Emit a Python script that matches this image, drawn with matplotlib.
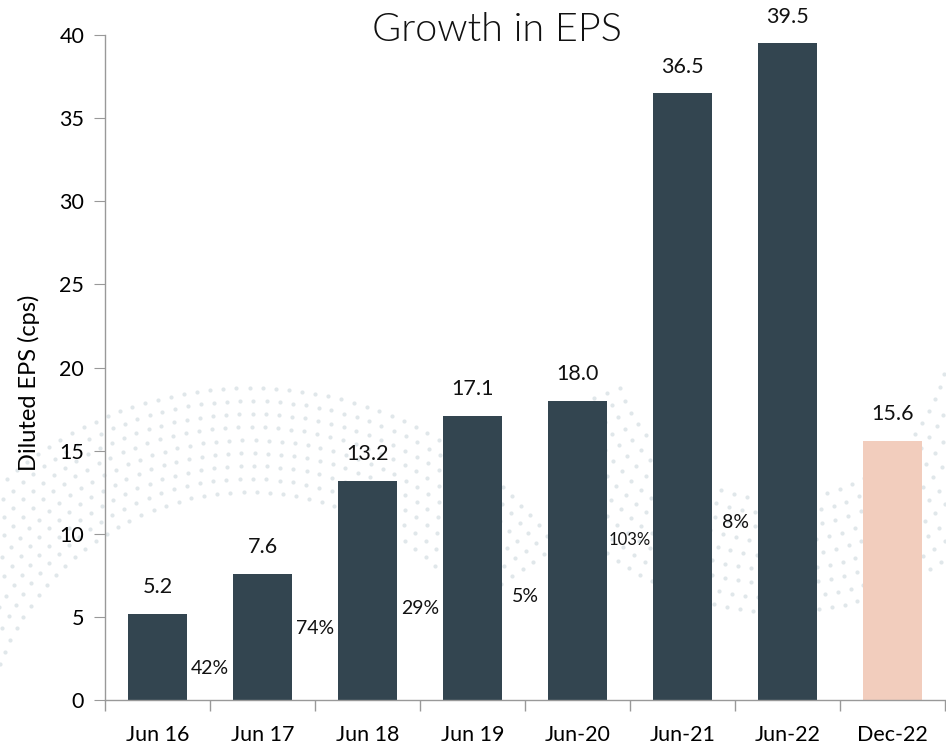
import matplotlib
matplotlib.use("Agg")
import matplotlib.pyplot as plt
import numpy as np

categories = ["Jun 16", "Jun 17", "Jun 18", "Jun 19", "Jun-20", "Jun-21", "Jun-22", "Dec-22"]
eps_values = [5.2, 7.6, 13.2, 17.1, 18.0, 36.5, 39.5, 15.6]
growth_labels = ["42%", "74%", "29%", "5%", "103%", "8%"]
growth_label_y = [1.9, 4.3, 5.5, 6.2, 9.6, 10.7]
bar_colors = ["#334550"] * 7 + ["#F2CDBD"]

plt.rcParams['font.family'] = ['Lato', 'DejaVu Sans']

fig = plt.figure(figsize=(9.46, 7.5), dpi=100)

# decorative dotted background (pixel coordinates)
bg = fig.add_axes([0, 0, 1, 1], zorder=0)
bg.set_xlim(0, 946)
bg.set_ylim(750, 0)
bg.axis("off")
dot_col = "#E0E7EA"
cx, cy = 250, 760
for r in np.arange(268, 380, 13):
    n = int(np.pi * r / 15)
    th = np.linspace(np.radians(35), np.radians(190), n)
    px = cx + r * np.cos(th)
    py = cy - r * np.sin(th)
    bg.scatter(px, py, s=9, color=dot_col, lw=0)
cx2, cy2 = 780, 330
for r in np.arange(170, 285, 14):
    n = int(np.pi * r / 16)
    th = np.linspace(np.radians(200), np.radians(345), n)
    px = cx2 + r * np.cos(th)
    py = cy2 - r * np.sin(th)
    m = (px > 560)
    bg.scatter(px[m], py[m], s=9, color=dot_col, lw=0)

ax = fig.add_axes([105/946, 1 - 700/750, (945-105)/946, (700-35)/750], zorder=1)
ax.patch.set_alpha(0)

x = np.arange(len(categories))
ax.bar(x, eps_values, width=0.57, color=bar_colors, zorder=2)

for xi, v in zip(x, eps_values):
    ax.text(xi, v + 1.0, f"{v:.1f}", ha="center", va="bottom", fontsize=15.5, color="#111111")

for i, (lab, yv) in enumerate(zip(growth_labels, growth_label_y)):
    fs = 12 if lab == "103%" else 14
    ax.text(i + 0.5, yv, lab, ha="center", va="center", fontsize=fs, color="#111111")

ax.set_xlim(-0.5, len(categories) - 0.5)
ax.set_ylim(0, 40)
ax.set_yticks(range(0, 41, 5))
ax.set_xticks(x)
ax.set_xticklabels(categories, fontsize=15.5)
ax.set_xticks(np.arange(-0.5, len(categories)), minor=True)
ax.tick_params(axis="x", which="major", length=0, pad=18)
ax.tick_params(axis="x", which="minor", length=8, color="#999999", width=1, direction="out")
ax.tick_params(axis="y", length=8, color="#999999", labelsize=15.5, pad=7)
for s in ["top", "right"]:
    ax.spines[s].set_visible(False)
for s in ["left", "bottom"]:
    ax.spines[s].set_color("#999999")
    ax.spines[s].set_linewidth(1)

ax.set_ylabel("Diluted EPS (cps)", fontsize=17)
ax.yaxis.set_label_coords((40 - 105) / 840, (700 - 383) / 665)

fig.text(497/946, 1 - 30/750, "Growth in EPS", ha="center", va="center",
         fontsize=28.5, fontweight=300, color="#111111")

fig.savefig("out.png", dpi=100)
